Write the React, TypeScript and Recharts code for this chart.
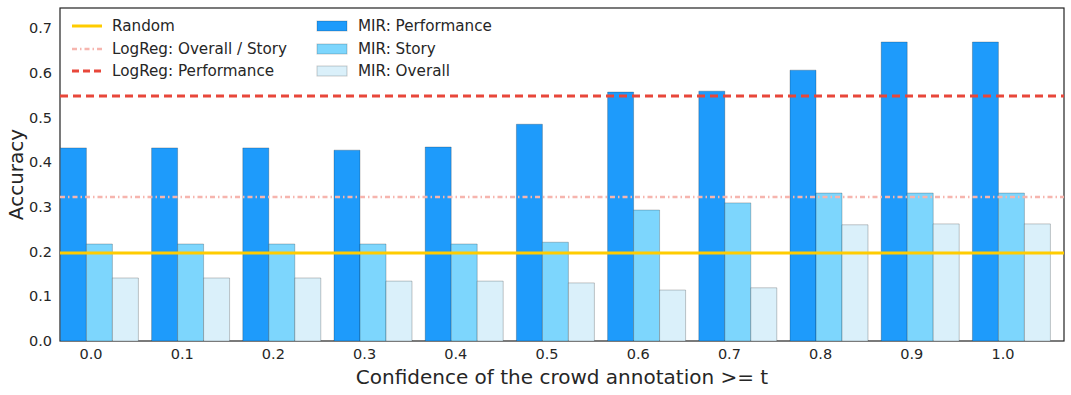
import React from 'react';
import {
  ComposedChart, Bar, XAxis, YAxis, ReferenceLine, usePlotArea,
} from 'recharts';

const thresholds = ['0.0', '0.1', '0.2', '0.3', '0.4', '0.5', '0.6', '0.7', '0.8', '0.9', '1.0'];
const mirPerformance = [0.432, 0.432, 0.432, 0.427, 0.434, 0.485, 0.557, 0.559, 0.606, 0.669, 0.669];
const mirStory = [0.217, 0.217, 0.217, 0.217, 0.217, 0.221, 0.293, 0.309, 0.331, 0.331, 0.331];
const mirOverall = [0.141, 0.141, 0.141, 0.134, 0.134, 0.130, 0.114, 0.119, 0.260, 0.262, 0.262];
const randomBaseline = 0.197;
const logRegOverallStory = 0.322;
const logRegPerformance = 0.548;
const yTicks = [0, 0.1, 0.2, 0.3, 0.4, 0.5, 0.6, 0.7];

const C = {
  perf: '#1e9bfb',
  story: '#7dd6fd',
  overall: '#daf0fa',
  random: '#ffcc00',
  lrOS: '#f6b5ae',
  lrPerf: '#e8473a',
  text: '#262626',
};

const FONT = '"DejaVu Sans", Verdana, sans-serif';

const data = thresholds.map((t, i) => ({
  pos: i,
  t,
  perf: mirPerformance[i],
  story: mirStory[i],
  overall: mirOverall[i],
}));

// box around the plot area (matplotlib spines)
function Frame() {
  const area = usePlotArea ? usePlotArea() : undefined;
  if (!area) return null;
  return (
    <rect x={area.x} y={area.y} width={area.width} height={area.height}
      fill="none" stroke="#222" strokeWidth={1.2} />
  );
}

function LegendBox() {
  const lineItems = [
    { name: 'Random', stroke: C.random, dash: undefined as string | undefined, w: 3 },
    { name: 'LogReg: Overall / Story', stroke: C.lrOS, dash: '5 3 1.5 3', w: 2.5 },
    { name: 'LogReg: Performance', stroke: C.lrPerf, dash: '7 4', w: 3 },
  ];
  const barItems = [
    { name: 'MIR: Performance', fill: C.perf },
    { name: 'MIR: Story', fill: C.story },
    { name: 'MIR: Overall', fill: C.overall },
  ];
  const row = { display: 'flex', alignItems: 'center', height: 22.5 } as const;
  return (
    <div style={{
      position: 'absolute', left: 71, top: 15, display: 'flex',
      fontFamily: FONT, fontSize: 15.2, color: C.text, pointerEvents: 'none',
    }}>
      <div style={{ width: 245 }}>
        {lineItems.map(it => (
          <div key={it.name} style={row}>
            <svg width={32} height={10} style={{ marginRight: 9 }}>
              <line x1={1} y1={5} x2={31} y2={5} stroke={it.stroke}
                strokeWidth={it.w} strokeDasharray={it.dash} />
            </svg>
            <span>{it.name}</span>
          </div>
        ))}
      </div>
      <div>
        {barItems.map(it => (
          <div key={it.name} style={row}>
            <svg width={32} height={12} style={{ marginRight: 10 }}>
              <rect x={1} y={1} width={30} height={10} fill={it.fill}
                stroke="#000" strokeOpacity={0.2} />
            </svg>
            <span>{it.name}</span>
          </div>
        ))}
      </div>
    </div>
  );
}

export default function App() {
  // band of 91.2px per threshold, plot spans 60..1064
  const xDomain = [-0.4276, 10.581];
  const barStroke = { stroke: '#000', strokeOpacity: 0.22, strokeWidth: 1 };

  return (
    <div style={{ position: 'absolute', left: 0, top: 0, width: 1071, height: 395, background: '#fff' }}>
      <ComposedChart
        width={1071}
        height={395}
        data={data}
        margin={{ top: 8, right: 7, left: 8, bottom: 6 }}
        barGap={0}
      >
        <XAxis
          dataKey="pos"
          type="number"
          domain={xDomain}
          allowDataOverflow
          ticks={data.map(d => d.pos)}
          tickFormatter={(v: number) => thresholds[v] ?? ''}
          height={48}
          tickLine={false}
          axisLine={false}
          tickSize={6}
          tick={{ fontSize: 14.5, fill: C.text, fontFamily: FONT, dx: -8 }}
          label={{
            value: 'Confidence of the crowd annotation >= t',
            position: 'insideBottom',
            offset: 5,
            fontSize: 20,
            fill: C.text,
            fontFamily: FONT,
          }}
        />
        <YAxis
          type="number"
          domain={[0, 0.745]}
          ticks={yTicks}
          allowDataOverflow
          tickFormatter={(v: number) => v.toFixed(1)}
          width={52}
          tickLine={false}
          axisLine={false}
          tick={{ fontSize: 14.5, fill: C.text, fontFamily: FONT }}
          label={{
            value: 'Accuracy',
            angle: -90,
            position: 'insideLeft',
            offset: 0,
            dx: 8,
            fontSize: 20,
            fill: C.text,
            fontFamily: FONT,
            style: { textAnchor: 'middle' },
          }}
        />

        <Bar dataKey="perf" name="MIR: Performance" fill={C.perf} barSize={26} {...barStroke} isAnimationActive={false} />
        <Bar dataKey="story" name="MIR: Story" fill={C.story} barSize={26} {...barStroke} isAnimationActive={false} />
        <Bar dataKey="overall" name="MIR: Overall" fill={C.overall} barSize={26} {...barStroke} isAnimationActive={false} />

        <ReferenceLine y={logRegOverallStory} stroke={C.lrOS} strokeWidth={2.5} strokeDasharray="5 3 1.5 3" />
        <ReferenceLine y={logRegPerformance} stroke={C.lrPerf} strokeWidth={3} strokeDasharray="8 5" />
        <ReferenceLine y={randomBaseline} stroke={C.random} strokeWidth={3} />

        <Frame />
      </ComposedChart>
      <LegendBox />
    </div>
  );
}
